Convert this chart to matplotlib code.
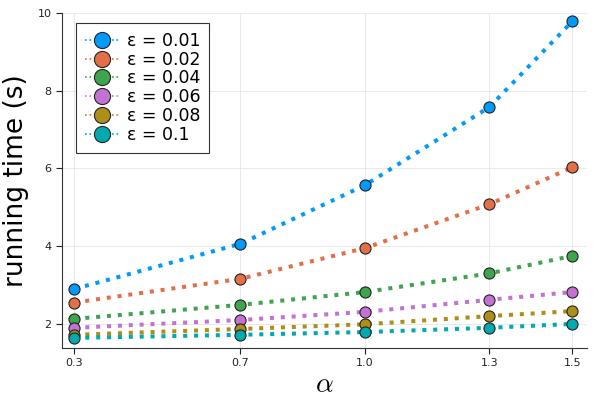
import matplotlib
matplotlib.use("Agg")
import matplotlib.pyplot as plt

alphas = [0.3, 0.7, 1.0, 1.3, 1.5]
eps_labels = ["ε = 0.01", "ε = 0.02", "ε = 0.04", "ε = 0.06", "ε = 0.08", "ε = 0.1"]

t_001 = [2.90, 4.06, 5.57, 7.58, 9.79]
t_002 = [2.55, 3.16, 3.95, 5.08, 6.03]
t_004 = [2.13, 2.49, 2.82, 3.30, 3.75]
t_006 = [1.90, 2.10, 2.31, 2.62, 2.82]
t_008 = [1.72, 1.87, 1.99, 2.20, 2.33]
t_010 = [1.64, 1.72, 1.79, 1.90, 2.00]
series = [t_001, t_002, t_004, t_006, t_008, t_010]

colors = ["#009AFA", "#E36F47", "#3EA44E", "#C371D2", "#AC8E18", "#00AAAE"]

plt.rcParams["mathtext.fontset"] = "cm"

fig = plt.figure(figsize=(6, 4), dpi=100)
ax = fig.add_axes([62/600, 52/400, 525/600, 335/400])

for ys, lab, c in zip(series, eps_labels, colors):
    ax.plot(alphas, ys, color=c, lw=2.9, dashes=(1, 1.7), marker="o", ms=8,
            mfc=c, mec="#222222", mew=0.8, label=lab)

ax.set_xlim(0.27, 1.535)
ax.set_ylim(1.38, 10)
ax.set_xticks(alphas)
ax.set_xticklabels(["0.3", "0.7", "1.0", "1.3", "1.5"])
ax.set_yticks([2, 4, 6, 8, 10])
ax.tick_params(labelsize=8, length=4, width=0.8, colors="#222222")
ax.grid(True, color="#e6e6e6", lw=0.6)
ax.set_axisbelow(True)
for s in ["top", "right"]:
    ax.spines[s].set_visible(False)
for s in ["left", "bottom"]:
    ax.spines[s].set_color("#333333")

ax.set_xlabel(r"$\alpha$", fontsize=20, labelpad=1)
ax.set_ylabel("running time (s)", fontsize=19, labelpad=6)

leg = ax.legend(loc="upper left", fontsize=12.5, fancybox=False, framealpha=1,
                edgecolor="#333333", handlelength=2.0, borderpad=0.5,
                labelspacing=0.05, handletextpad=0.4, markerscale=1.45,
                borderaxespad=0, bbox_to_anchor=(0.027, 0.97))
leg.get_frame().set_linewidth(0.8)
for h in leg.get_lines():
    h.set_linewidth(1.2)

fig.savefig("out.png", dpi=100)
